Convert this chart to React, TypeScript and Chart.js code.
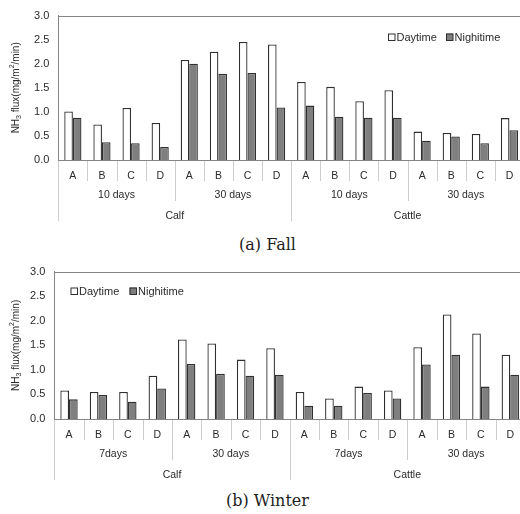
import React, { useEffect, useRef } from "react";
import { Chart, registerables } from "chart.js";

Chart.register(...registerables);

// ---------- data ----------
const SUBCATS = ["A", "B", "C", "D", "A", "B", "C", "D", "A", "B", "C", "D", "A", "B", "C", "D"];
const ANIMALS = ["Calf", "Cattle"];
const FALL_PERIODS = ["10 days", "30 days", "10 days", "30 days"];
const WINTER_PERIODS = ["7days", "30 days", "7days", "30 days"];
const SERIES_NAMES = ["Daytime", "Nighitime"];

const FALL_DAY = [1.01, 0.74, 1.08, 0.77, 2.08, 2.25, 2.45, 2.4, 1.62, 1.52, 1.22, 1.45, 0.59, 0.56, 0.54, 0.87];
const FALL_NIGHT = [0.88, 0.37, 0.35, 0.27, 2.0, 1.79, 1.81, 1.09, 1.13, 0.9, 0.88, 0.88, 0.4, 0.49, 0.35, 0.62];

const WINTER_DAY = [0.58, 0.55, 0.55, 0.88, 1.62, 1.54, 1.21, 1.44, 0.55, 0.42, 0.66, 0.58, 1.46, 2.13, 1.74, 1.31];
const WINTER_NIGHT = [0.4, 0.49, 0.35, 0.62, 1.12, 0.92, 0.88, 0.9, 0.27, 0.27, 0.53, 0.42, 1.11, 1.31, 0.66, 0.9];

const Y_TICKS = [0, 0.5, 1.0, 1.5, 2.0, 2.5, 3.0];

// ---------- styles ----------
const FONT = "'Liberation Sans', Arial, Helvetica, sans-serif";
const TEXT_COLOR = "#2a2a2a";
const AXIS_COLOR = "#858585";
const SEP_COLOR = "#cdcdcd";
const BAR_BORDER = "#2f2f2f";
const DAY_FILL = "#ffffff";
const NIGHT_FILL = "#7f7f7f";

type PanelProps = {
  day: number[];
  night: number[];
  periods: string[];
  width: number;
  height: number;
  yAxisWidth: number;
  padTop: number;
  padBottom: number;
  legend: { x1: number; x2: number; y: number };
  top: number;
};

function Panel(props: PanelProps) {
  const ref = useRef<HTMLCanvasElement | null>(null);

  useEffect(() => {
    if (!ref.current) return;
    const { day, night, periods, legend, yAxisWidth } = props;

    const decor = {
      id: "decor",
      afterDraw(chart: any) {
        const ctx = chart.ctx as CanvasRenderingContext2D;
        const { left, right, top, bottom } = chart.chartArea;
        const n = SUBCATS.length;
        const w = (right - left) / n;
        ctx.save();

        // top border
        ctx.strokeStyle = AXIS_COLOR;
        ctx.lineWidth = 1;
        ctx.beginPath();
        ctx.moveTo(left, Math.round(top) + 0.5);
        ctx.lineTo(right, Math.round(top) + 0.5);
        ctx.stroke();

        // category separators
        ctx.strokeStyle = SEP_COLOR;
        for (let i = 0; i <= n; i++) {
          const x = Math.round(left + i * w) + 0.5;
          const len = i % 8 === 0 ? 61 : i % 4 === 0 ? 41 : 21;
          ctx.beginPath();
          ctx.moveTo(x, bottom + 1);
          ctx.lineTo(x, bottom + len);
          ctx.stroke();
        }

        // labels
        ctx.fillStyle = TEXT_COLOR;
        ctx.font = `10.5px ${FONT}`;
        ctx.textAlign = "center";
        ctx.textBaseline = "middle";
        const xs = chart.scales.x;
        SUBCATS.forEach((s, i) => {
          ctx.fillText(s, xs.getPixelForValue(i), bottom + 16);
        });
        periods.forEach((p, k) => {
          ctx.fillText(p, left + (k * 4 + 2) * w, bottom + 35);
        });
        ANIMALS.forEach((a, k) => {
          ctx.fillText(a, left + (k * 8 + 4) * w, bottom + 56);
        });

        // y title with sub/superscript
        ctx.save();
        ctx.translate(16, (top + bottom) / 2);
        ctx.rotate(-Math.PI / 2);
        ctx.textAlign = "left";
        const segs: [string, number, number][] = [
          ["NH", 10, 0],
          ["3", 7, 3],
          [" flux(mg/m", 10, 0],
          ["2", 7, -4],
          ["/min)", 10, 0],
        ];
        let total = 0;
        segs.forEach(([t, sz]) => {
          ctx.font = `${sz}px ${FONT}`;
          total += ctx.measureText(t).width;
        });
        let cx = -total / 2;
        segs.forEach(([t, sz, dy]) => {
          ctx.font = `${sz}px ${FONT}`;
          ctx.fillText(t, cx, dy);
          cx += ctx.measureText(t).width;
        });
        ctx.restore();

        // legend
        ctx.font = `11px ${FONT}`;
        ctx.textAlign = "left";
        ctx.textBaseline = "middle";
        const items = [
          { x: legend.x1, fill: DAY_FILL, label: SERIES_NAMES[0] },
          { x: legend.x2, fill: NIGHT_FILL, label: SERIES_NAMES[1] },
        ];
        items.forEach((it) => {
          ctx.fillStyle = it.fill;
          ctx.fillRect(it.x, legend.y - 3.5, 7, 7);
          ctx.strokeStyle = BAR_BORDER;
          ctx.lineWidth = 1;
          ctx.strokeRect(it.x + 0.5, legend.y - 3.5 + 0.5, 6.5, 6.5);
          ctx.fillStyle = TEXT_COLOR;
          ctx.fillText(it.label, it.x + 8.5, legend.y + 0.5);
        });

        ctx.restore();
      },
    };

    const chart = new Chart(ref.current, {
      type: "bar",
      data: {
        labels: SUBCATS.map((s, i) => `${i}-${s}`),
        datasets: [
          {
            label: SERIES_NAMES[0],
            data: day,
            backgroundColor: DAY_FILL,
            borderColor: BAR_BORDER,
            borderWidth: 1.3,
            categoryPercentage: 0.59,
            barPercentage: 1.0,
          },
          {
            label: SERIES_NAMES[1],
            data: night,
            backgroundColor: NIGHT_FILL,
            borderColor: BAR_BORDER,
            borderWidth: 1.3,
            categoryPercentage: 0.59,
            barPercentage: 1.0,
          },
        ],
      },
      options: {
        animation: false,
        responsive: true,
        maintainAspectRatio: false,
        layout: { padding: { top: props.padTop, bottom: props.padBottom, left: 0, right: 0 } },
        plugins: {
          legend: { display: false },
          tooltip: { enabled: false },
          title: { display: false },
        },
        scales: {
          x: {
            type: "category",
            grid: { display: false, drawTicks: false },
            border: { display: true, color: AXIS_COLOR, width: 1 },
            ticks: { display: false },
            afterFit: (scale: any) => {
              scale.height = 0;
            },
          },
          y: {
            min: 0,
            max: 3,
            grid: { display: false, drawTicks: false },
            border: { display: true, color: AXIS_COLOR, width: 1 },
            ticks: {
              padding: 9,
              color: TEXT_COLOR,
              font: { family: FONT, size: 11 },
              callback: (v: any) => Number(v).toFixed(1),
            },
            afterBuildTicks: (scale: any) => {
              scale.ticks = Y_TICKS.map((v) => ({ value: v }));
            },
            afterFit: (scale: any) => {
              scale.width = yAxisWidth;
            },
          },
        },
      },
      plugins: [decor],
    } as any);

    return () => chart.destroy();
  }, []);

  return (
    <div
      style={{
        position: "absolute",
        left: 0,
        top: props.top,
        width: props.width,
        height: props.height,
      }}
    >
      <canvas ref={ref} />
    </div>
  );
}

const captionStyle: React.CSSProperties = {
  position: "absolute",
  left: 0,
  width: 535,
  textAlign: "center",
  fontFamily: "'DejaVu Serif', 'Liberation Serif', serif",
  fontSize: 16,
  lineHeight: "20px",
  color: "#1e1e1e",
};

export default function App() {
  return (
    <div
      style={{
        position: "fixed",
        left: 0,
        top: 0,
        width: 520,
        height: 514,
        overflow: "hidden",
        background: "#ffffff",
      }}
    >
      <Panel
        day={FALL_DAY}
        night={FALL_NIGHT}
        periods={FALL_PERIODS}
        top={0}
        width={524}
        height={230}
        yAxisWidth={58.3}
        padTop={12.3}
        padBottom={70}
        legend={{ x1: 388, x2: 446, y: 37 }}
      />
      <div style={{ ...captionStyle, top: 235 }}>(a) Fall</div>
      <Panel
        day={WINTER_DAY}
        night={WINTER_NIGHT}
        periods={WINTER_PERIODS}
        top={250}
        width={525}
        height={235}
        yAxisWidth={54.3}
        padTop={21.7}
        padBottom={66}
        legend={{ x1: 70.5, x2: 129.5, y: 41 }}
      />
      <div style={{ ...captionStyle, top: 491 }}>(b) Winter</div>
    </div>
  );
}
